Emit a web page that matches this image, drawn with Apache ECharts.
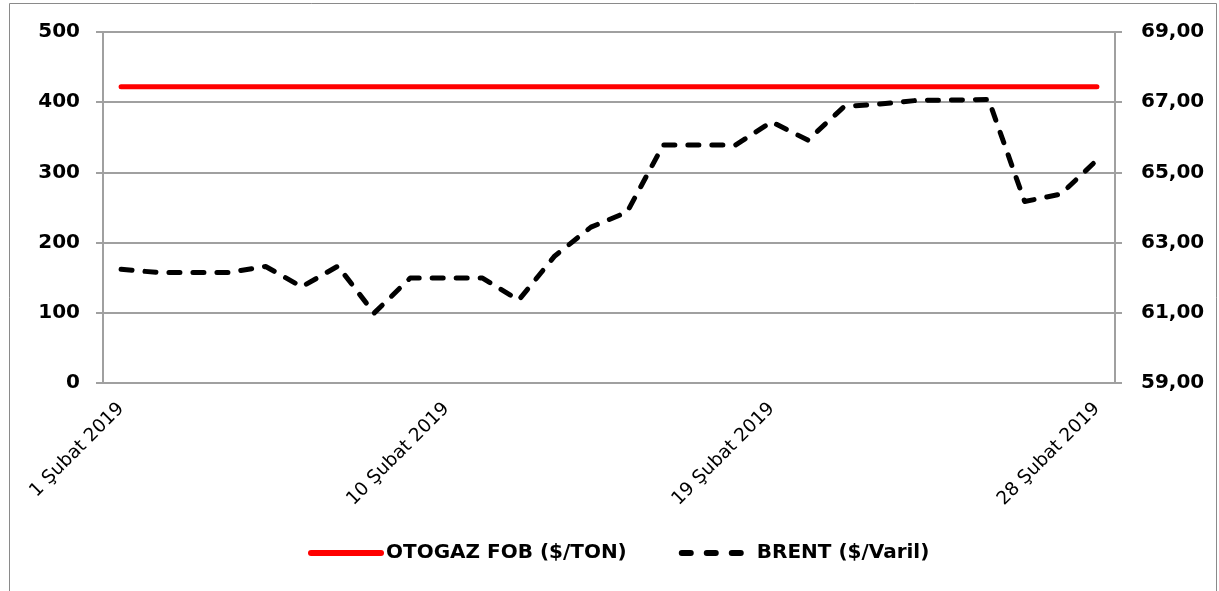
<!DOCTYPE html>
<html>

<head>
  <meta charset="utf-8">
  <title>Otogaz FOB ve Brent</title>
  <script src="https://cdn.jsdelivr.net/npm/echarts/dist/echarts.min.js"></script>
  <style>
    html, body {
      margin: 0;
      padding: 0;
      background: #fff;
    }

    #chart {
      width: 1219px;
      height: 591px;
    }
  </style>
</head>

<body>
  <div id="chart"></div>

  <script>
    // days of February 2019
    const days = [];
    for (let d = 1; d <= 28; d++) days.push(d + ' Şubat 2019');

    // OTOGAZ FOB ($/TON), left axis
    const otogaz = [422, 422, 422, 422, 422, 422, 422, 422, 422, 422, 422, 422, 422, 422,
      422, 422, 422, 422, 422, 422, 422, 422, 422, 422, 422, 422, 422, 422];

    // BRENT ($/Varil), right axis
    const brent = [62.24, 62.15, 62.15, 62.15, 62.32, 61.74, 62.33, 60.99, 61.99, 61.99,
      61.99, 61.36, 62.62, 63.44, 63.87, 65.78, 65.78, 65.78, 66.44, 65.92,
      66.87, 66.95, 67.05, 67.06, 67.08, 64.17, 64.38, 65.35];

    const leftTicks = [0, 100, 200, 300, 400, 500];
    const rightTicks = [59, 61, 63, 65, 67, 69];

    const axisGray = '#a0a0a0';
    const font = 'DejaVu Sans';
    const dash = [11, 13];

    const chart = echarts.init(document.getElementById('chart'));
    chart.setOption({
      backgroundColor: '#fff',
      animation: false,
      graphic: [{
        type: 'rect',
        shape: { x: 9.5, y: 3.5, width: 1207, height: 600 },
        style: { fill: 'none', stroke: '#8a8a8a', lineWidth: 1 }
      }],
      grid: { left: 103, right: 104, top: 32, bottom: 208 },
      legend: {
        left: 303,
        top: 538,
        itemWidth: 70,
        itemHeight: 14,
        itemGap: 52,
        textStyle: { fontFamily: font, fontWeight: 'bold', fontSize: 20, color: '#000' },
        data: [{
          name: 'OTOGAZ FOB ($/TON)',
          itemStyle: { opacity: 0 },
          lineStyle: { color: '#ff0000', width: 6, cap: 'round' }
        }, {
          name: 'BRENT ($/Varil)',
          itemStyle: { opacity: 0 },
          lineStyle: { color: '#000', width: 6, type: [9, 16], cap: 'round' }
        }]
      },
      xAxis: {
        type: 'category',
        data: days,
        boundaryGap: true,
        axisLine: { lineStyle: { color: axisGray, width: 2 } },
        axisTick: { interval: 8, length: 7, lineStyle: { color: axisGray, width: 2 } },
        axisLabel: {
          interval: 8,
          rotate: 45,
          margin: 23,
          fontFamily: font,
          fontSize: 18.5,
          color: '#000'
        },
        splitLine: { show: false }
      },
      yAxis: [{
        type: 'value',
        min: leftTicks[0],
        max: leftTicks[leftTicks.length - 1],
        interval: 100,
        axisLine: { show: true, lineStyle: { color: axisGray, width: 2 } },
        axisTick: { show: true, length: 7, lineStyle: { color: axisGray, width: 2 } },
        axisLabel: { margin: 23, fontFamily: font, fontWeight: 'bold', fontSize: 20, color: '#000' },
        splitLine: { lineStyle: { color: axisGray, width: 2 } }
      }, {
        type: 'value',
        min: rightTicks[0],
        max: rightTicks[rightTicks.length - 1],
        interval: 2,
        position: 'right',
        axisLine: { show: true, lineStyle: { color: axisGray, width: 2 } },
        axisTick: { show: true, length: 7, lineStyle: { color: axisGray, width: 2 } },
        axisLabel: {
          margin: 26,
          fontFamily: font,
          fontWeight: 'bold',
          fontSize: 20,
          color: '#000',
          formatter: v => v.toFixed(2).replace('.', ',')
        },
        splitLine: { show: false }
      }],
      series: [{
        name: 'OTOGAZ FOB ($/TON)',
        type: 'line',
        yAxisIndex: 0,
        data: otogaz,
        symbol: 'none',
        color: '#ff0000',
        lineStyle: { color: '#ff0000', width: 5, cap: 'round' }
      }, {
        name: 'BRENT ($/Varil)',
        type: 'line',
        yAxisIndex: 1,
        data: brent,
        symbol: 'none',
        color: '#000',
        lineStyle: { color: '#000', width: 5, type: dash, cap: 'round', join: 'round' }
      }]
    });
  </script>
</body>

</html>
